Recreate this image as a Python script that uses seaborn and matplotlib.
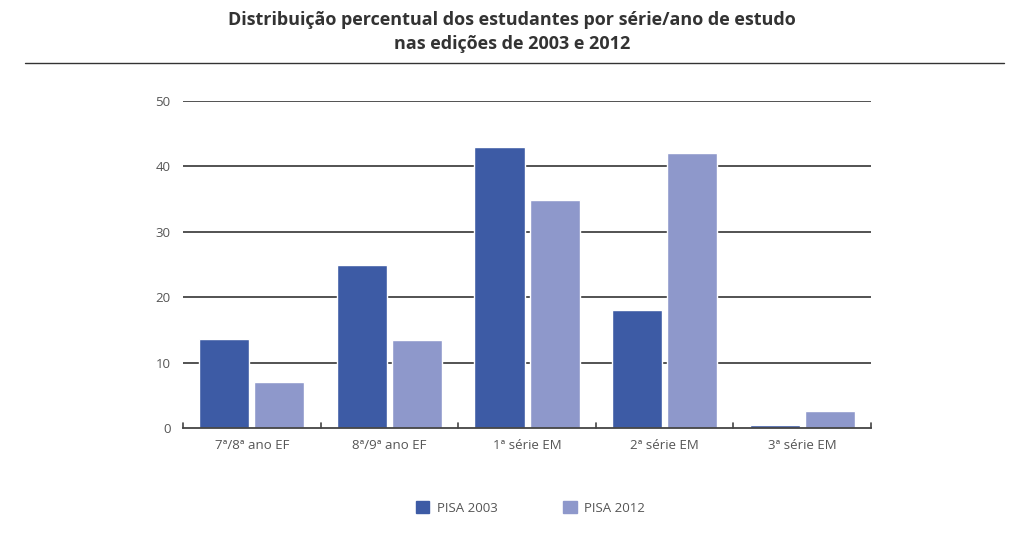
import matplotlib
matplotlib.use('Agg')

import seaborn as sns
import matplotlib.pyplot as plt
import pandas
from matplotlib.lines import Line2D
from matplotlib.patches import Patch

categories = ['7ª/8ª ano EF', '8ª/9ª ano EF', '1ª série EM', '2ª série EM', '3ª série EM']
pisa_2003 = [13.6, 24.9, 43.0, 18.0, 0.5]
pisa_2012 = [7.0, 13.5, 34.9, 42.0, 2.6]
series = ['PISA 2003', 'PISA 2012']
y_ticks = [0, 10, 20, 30, 40, 50]

COLORS = ['#3d5ba5', '#8e98cb']
TEXT = '#555555'

data = pandas.DataFrame({
    'serie': categories * 2,
    'valor': pisa_2003 + pisa_2012,
    'edicao': [series[0]] * len(categories) + [series[1]] * len(categories),
})

sns.set_theme(style='white')
plt.rcParams['font.family'] = ['Open Sans', 'DejaVu Sans']

fig = plt.figure(figsize=(10.24, 5.48), dpi=100)
ax = fig.add_axes([0.1787, 0.219, 0.672, 0.5967])

sns.barplot(data=data, x='serie', y='valor', hue='edicao', palette=COLORS,
            width=0.8, gap=0.09, saturation=1, ax=ax, legend=False)

ax.set_ylim(0, 50)
ax.set_xlim(-0.5, len(categories) - 0.5)
ax.set_yticks(y_ticks)
ax.set_yticklabels([str(t) for t in y_ticks], color=TEXT, fontsize=9.5)
ax.tick_params(axis='y', length=0, pad=9)

# horizontal grid lines drawn above zero
for t in y_ticks[1:]:
    ax.axhline(t, color='#444444', lw=1.3, zorder=0)

ax.set_xticks(range(len(categories)))
ax.set_xticklabels(categories, color=TEXT, fontsize=9.5)
ax.tick_params(axis='x', length=0, pad=8)
for b in [i - 0.5 for i in range(len(categories) + 1)]:
    ax.add_line(Line2D([b, b], [0, 0.8], color='#444444', lw=1.2, clip_on=False))

ax.set_xlabel('')
ax.set_ylabel('')
for s in ['top', 'right', 'left']:
    ax.spines[s].set_visible(False)
ax.spines['bottom'].set_color('#444444')
ax.spines['bottom'].set_linewidth(1.3)

fig.text(0.5, 0.98, 'Distribuição percentual dos estudantes por série/ano de estudo\nnas edições de 2003 e 2012',
         ha='center', va='top', fontsize=13, fontweight='bold', color='#333333', linespacing=1.45)
fig.add_artist(Line2D([0.024, 0.98], [0.885, 0.885], color='#333333', lw=1.0))

handles = [Patch(color=c, label=l) for c, l in zip(COLORS, series)]
leg = fig.legend(handles=handles, loc='center', bbox_to_anchor=(0.518, 0.073), ncol=2,
                 frameon=False, fontsize=9.5, handlelength=1.0, handleheight=1.0,
                 columnspacing=5.0, handletextpad=0.6)
for t in leg.get_texts():
    t.set_color(TEXT)

fig.savefig('out.png', dpi=100)
